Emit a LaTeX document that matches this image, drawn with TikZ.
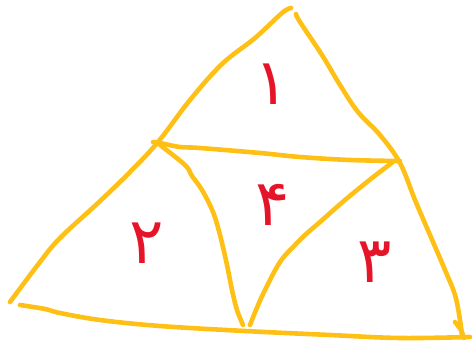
\documentclass[tikz,border=0pt]{standalone}
\usepackage{fontspec}
\newfontfamily\digitfont[Script=Arabic]{DejaVu Sans}
\definecolor{penyellow}{RGB}{255,192,22}
\definecolor{penred}{RGB}{230,20,40}
\tikzset{
  pen/.style={draw=penyellow, line width=4.6pt, line cap=round, line join=round},
  numlabel/.style={text=penred, font=\digitfont\fontsize{64}{64}\selectfont, inner sep=0pt}
}
\begin{document}
\begin{tikzpicture}[x=1pt,y=-1pt]
\useasboundingbox (0,0) rectangle (472,348);
% outer sides
\draw[pen] plot[smooth, tension=0.6] coordinates {(291,8) (282,13) (255,38) (222,64) (190,100) (158,142) (130,172) (98,203) (60,238) (40,262) (10,302)};
\draw[pen] plot[smooth, tension=0.6] coordinates {(296,14) (300,22) (322,55) (340,85) (358,112) (380,135) (400,163) (415,200) (430,235) (445,270) (455,295) (460,320) (462,336)};
\draw[pen] plot[smooth, tension=0.6] coordinates {(20,305) (45,309) (60,313) (100,320) (160,326) (245,331) (330,335) (400,338) (470,337)};
\draw[pen] plot[smooth] coordinates {(455,322) (461,330) (464,338)};
% middle horizontal
\draw[pen] plot[smooth, tension=0.6] coordinates {(153,142) (160,143) (180,147) (200,148) (260,153) (300,157) (350,160) (400,161)};
% inner left
\draw[pen] plot[smooth, tension=0.6] coordinates {(160,145) (185,165) (192,176) (202,190) (213,212) (220,235) (227,265) (232,290) (237,310) (243,325)};
% inner right
\draw[pen] plot[smooth, tension=0.6] coordinates {(393,162) (372,178) (345,200) (320,222) (305,235) (295,245) (280,262) (265,290) (256,310) (250,325)};
% labels
\node[numlabel] (n1) at (272,84) {۱};
\node[numlabel] (n2) at (147,243) {۲};
\node[numlabel] (n4) at (273,205) {۴};
\node[numlabel] (n3) at (375,262) {۳};
\end{tikzpicture}
\end{document}
